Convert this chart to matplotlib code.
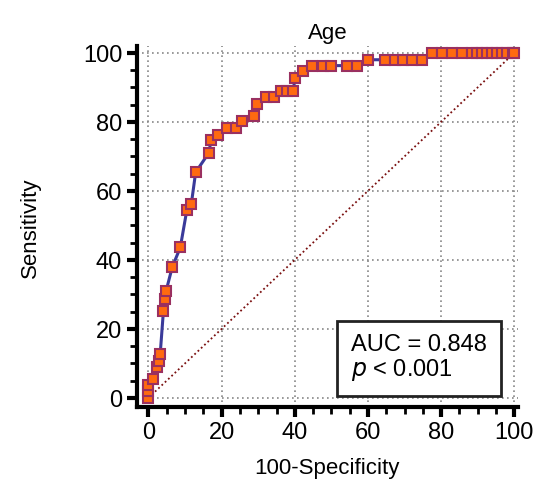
import matplotlib.pyplot as plt
from matplotlib.ticker import MultipleLocator

plt.rcParams['font.family'] = ['Liberation Sans', 'DejaVu Sans']

# ROC points (100-specificity, sensitivity)
fpr = [0, 0, 0, 1.2, 2.3, 3.0, 3.2, 4.1, 4.6, 4.8, 6.5, 8.7, 10.5, 11.7, 12.9,
       16.5, 17.1, 19.1, 21.6, 24.0, 25.5, 28.9, 29.6, 32.2, 34.2, 36.2, 38.0,
       39.5, 40.1, 42.2, 44.7, 47.6, 50.0, 54.2, 56.9, 60.0, 64.6, 67.3, 69.5,
       72.0, 74.7, 77.4, 80.2, 82.9, 85.7, 88.4, 89.8, 91.1, 92.5, 93.9, 95.2,
       96.6, 98.0, 99.6, 100]
tpr = [0, 2.0, 3.6, 5.4, 8.8, 10.7, 12.6, 25.3, 28.7, 30.9, 37.9, 43.6, 54.5,
       56.1, 65.4, 71.0, 74.6, 76.2, 78.3, 78.3, 80.2, 81.8, 85.3, 87.1, 87.1,
       89.0, 89.0, 89.0, 92.6, 94.6, 96.3, 96.3, 96.3, 96.3, 96.3, 98.0, 98.0,
       98.0, 98.0, 98.0, 98.0, 100, 100, 100, 100, 100, 100, 100, 100, 100,
       100, 100, 100, 100, 100]
auc_text = "AUC = 0.848\n$p$ < 0.001"

fig = plt.figure(figsize=(5.47, 4.89), dpi=100)
ax = fig.add_axes([0.250, 0.166, 0.697, 0.738])

ax.plot([0, 100], [0, 100], color='#7a1010', linestyle=(0, (1, 1.5)), lw=1.3)
ax.plot(fpr, tpr, color='#3a3a9a', lw=2.2, marker='s', markersize=7,
        markerfacecolor='#ff6a10', markeredgecolor='#9a3060', markeredgewidth=1.5,
        clip_on=False, zorder=3)

ax.set_xlim(-3.2, 101)
ax.set_ylim(-2.6, 102)
ax.xaxis.set_major_locator(MultipleLocator(20))
ax.yaxis.set_major_locator(MultipleLocator(20))
ax.xaxis.set_minor_locator(MultipleLocator(5))
ax.yaxis.set_minor_locator(MultipleLocator(5))
ax.grid(True, which='major', color='#888888', linestyle=(0, (1, 2)), lw=1.2)
for s in ['top', 'right']:
    ax.spines[s].set_visible(False)
for s in ['left', 'bottom']:
    ax.spines[s].set_linewidth(3)
ax.tick_params(which='major', length=7, width=3, labelsize=17)
ax.tick_params(which='minor', length=5, width=2)

ax.set_title('Age', fontsize=16)
ax.set_xlabel('100-Specificity', fontsize=16, labelpad=10)
ax.set_ylabel('Sensitivity', fontsize=16, labelpad=30)

ax.text(0.562, 0.068, auc_text, transform=ax.transAxes, fontsize=17,
        va='bottom', ha='left', linespacing=1.05,
        bbox=dict(boxstyle='square,pad=0.6', facecolor='white',
                  edgecolor='#222222', lw=2))

fig.savefig('out.png', dpi=100)
